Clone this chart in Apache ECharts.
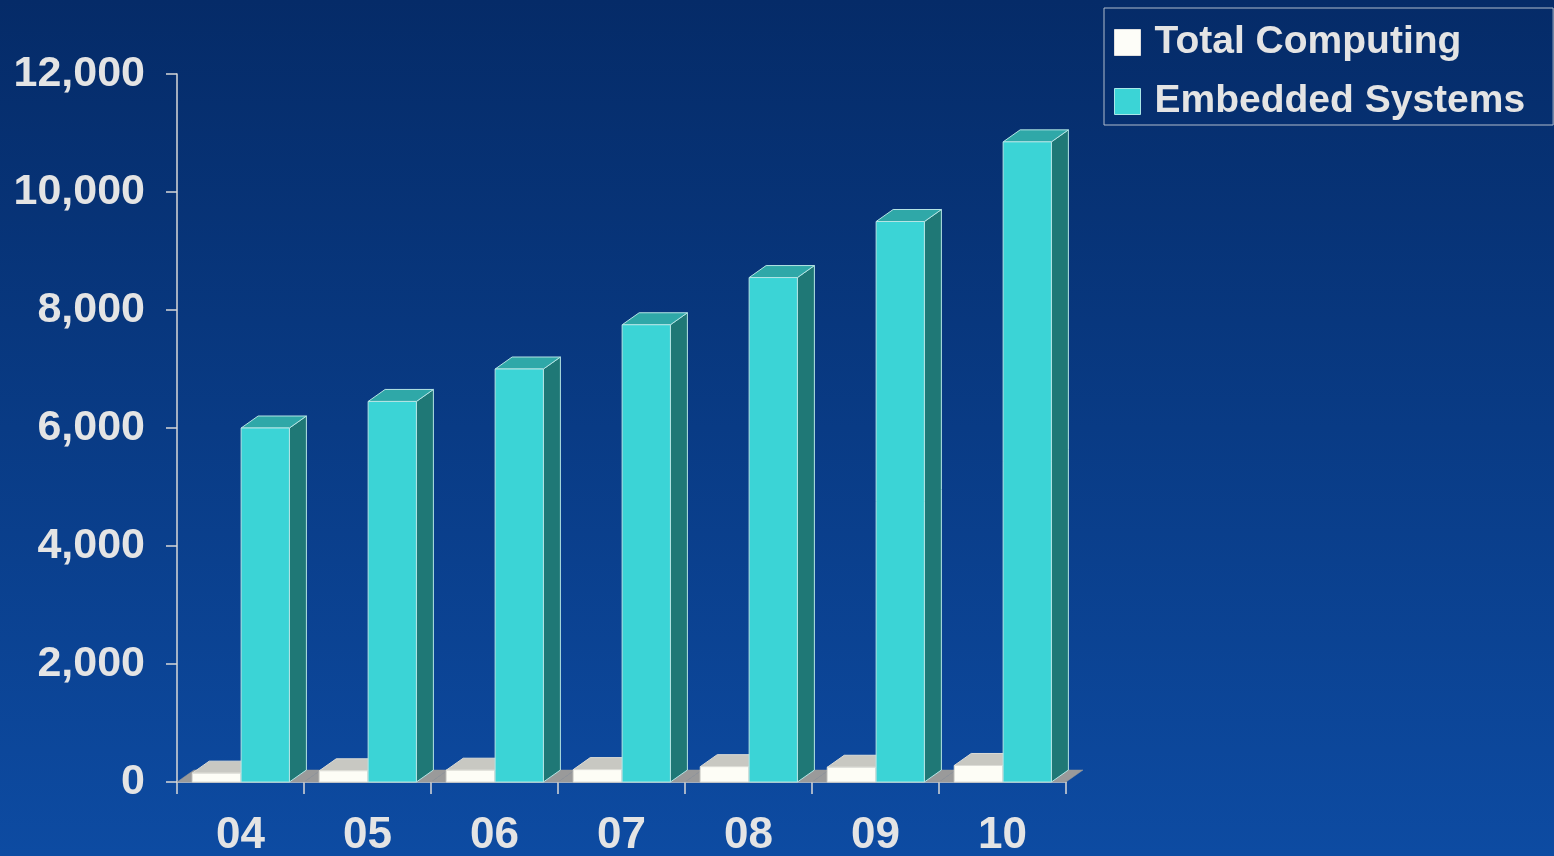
<!DOCTYPE html>
<html>
<head>
<meta charset="utf-8">
<script src="https://cdn.jsdelivr.net/npm/echarts@6/dist/echarts.min.js"></script>
<style>html,body{margin:0;padding:0;}#chart{width:1554px;height:856px;}</style>
</head>
<body>
<div id="chart"></div>
<script>
const categories = ['04', '05', '06', '07', '08', '09', '10'];
const totalComputing = [150, 190, 200, 210, 260, 250, 280];
const embeddedSystems = [6000, 6450, 7000, 7750, 8550, 9500, 10850];
const floorValues = [0, 0, 0, 0, 0, 0, 0];
const yTicks = { min: 0, max: 12000, interval: 2000 };

const DX = 17, DY = 12;
const BAR_FRAC = 0.38;

function makeBar(offsetFrac, colors) {
  return function (params, api) {
    const idx = api.value(0);
    const val = api.value(1);
    const top = api.coord([idx, val]);
    const base = api.coord([idx, 0]);
    const band = api.size([1, 0])[0];
    const w = band * BAR_FRAC;
    const cx = top[0] + band * offsetFrac;
    const x0 = cx - w / 2, x1 = cx + w / 2;
    const yt = top[1], yb = base[1];
    return {
      type: 'group',
      children: [
        { type: 'polygon', shape: { points: [[x1, yt], [x1, yb], [x1 + DX, yb - DY], [x1 + DX, yt - DY]] },
          style: { fill: colors.side, stroke: colors.edge, lineWidth: 1 } },
        { type: 'polygon', shape: { points: [[x0, yt], [x1, yt], [x1 + DX, yt - DY], [x0 + DX, yt - DY]] },
          style: { fill: colors.top, stroke: colors.edge, lineWidth: 1 } },
        { type: 'rect', shape: { x: x0, y: yt, width: w, height: yb - yt },
          style: { fill: colors.front, stroke: colors.edge, lineWidth: 1 } }
      ]
    };
  };
}

function floorItem(params, api) {
  const idx = api.value(0);
  const c = api.coord([idx, 0]);
  const band = api.size([1, 0])[0];
  const x0 = c[0] - band / 2, x1 = c[0] + band / 2;
  const y = c[1];
  return {
    type: 'polygon',
    shape: { points: [[x0, y], [x1, y], [x1 + DX, y - DY], [x0 + DX, y - DY]] },
    style: { fill: '#9a9a9a', stroke: '#9a9a9a', lineWidth: 0.5 }
  };
}

const chart = echarts.init(document.getElementById('chart'), null, { renderer: 'canvas' });
const labelColor = '#e4e4e4';
const font = 'Liberation Sans, Arial, sans-serif';
chart.setOption({
  backgroundColor: {
    type: 'linear', x: 0, y: 0, x2: 0, y2: 1,
    colorStops: [{ offset: 0, color: '#052b68' }, { offset: 1, color: '#0d4ba2' }]
  },
  animation: false,
  grid: { left: 177, right: 488, top: 74, bottom: 74, containLabel: false, outerBoundsMode: 'none' },
  legend: {
    left: 1104, top: 8,
    orient: 'vertical',
    padding: [15, 28, 4, 10],
    itemGap: 20,
    itemWidth: 26, itemHeight: 26,
    borderColor: '#b0bccc', borderWidth: 1,
    textStyle: { color: labelColor, fontSize: 39, fontWeight: 'bold', fontFamily: font, padding: [0, 0, 0, 9] },
    data: [
      { name: 'Total Computing', icon: 'rect', itemStyle: { color: '#fdfdf8', borderColor: '#e0e0e0', borderWidth: 1 } },
      { name: 'Embedded Systems', icon: 'rect', itemStyle: { color: '#3bd4d6', borderColor: '#a8e8e8', borderWidth: 1 } }
    ]
  },
  xAxis: {
    type: 'category',
    data: categories,
    boundaryGap: true,
    axisLine: { lineStyle: { color: '#d8d8d8', width: 1.5 } },
    axisTick: { show: true, length: 12, inside: false, lineStyle: { color: '#d8d8d8', width: 1.5 } },
    axisLabel: { color: labelColor, fontSize: 44, fontWeight: 'bold', fontFamily: font, margin: 32 },
    splitLine: { show: false }
  },
  yAxis: {
    type: 'value',
    min: yTicks.min, max: yTicks.max, interval: yTicks.interval,
    axisLine: { show: true, lineStyle: { color: '#d8d8d8', width: 1.5 } },
    axisTick: { show: true, length: 11, inside: false, lineStyle: { color: '#d8d8d8', width: 1.5 } },
    axisLabel: {
      color: labelColor, fontSize: 43, fontWeight: 'bold',
      fontFamily: font, margin: 32,
      formatter: v => v.toLocaleString('en-US')
    },
    splitLine: { show: false }
  },
  series: [
    {
      name: 'floor', type: 'custom', silent: true,
      data: floorValues.map((v, i) => [i, v]),
      encode: { x: 0, y: 1 },
      renderItem: floorItem, z: 1
    },
    {
      name: 'Total Computing', type: 'custom',
      data: totalComputing.map((v, i) => [i, v]),
      encode: { x: 0, y: 1 },
      itemStyle: { color: '#fdfdf8' },
      renderItem: makeBar(-0.19, { front: '#fdfdf6', top: '#c8c8c2', side: '#a8a8a2', edge: '#dcdcd6' }),
      z: 2
    },
    {
      name: 'Embedded Systems', type: 'custom',
      data: embeddedSystems.map((v, i) => [i, v]),
      encode: { x: 0, y: 1 },
      itemStyle: { color: '#3bd4d6' },
      renderItem: makeBar(0.195, { front: '#3bd4d6', top: '#2fa8a8', side: '#1f7876', edge: '#b4e4e4' }),
      z: 3
    }
  ]
});
</script>
</body>
</html>
